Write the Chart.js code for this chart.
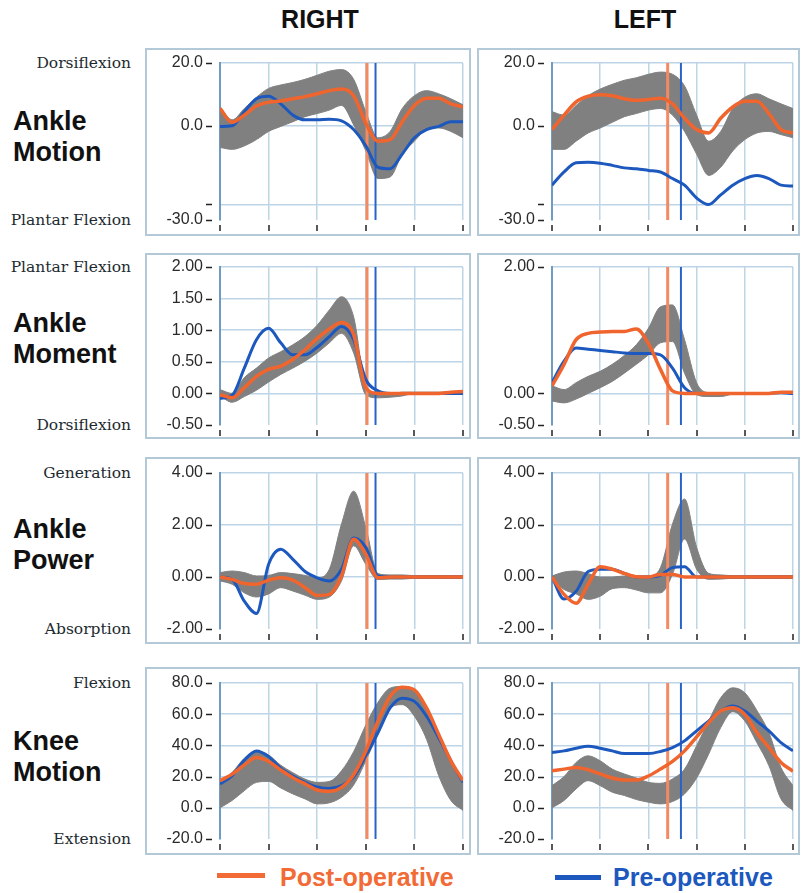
<!DOCTYPE html>
<html>
<head>
<meta charset="utf-8">
<script src="https://cdn.jsdelivr.net/npm/chart.js@4/dist/chart.umd.min.js"></script>
<style>
  body { margin: 0; background: #fff; width: 802px; height: 893px; position: relative; overflow: hidden;
         font-family: "Liberation Sans", Arial, sans-serif; }
  .abs { position: absolute; }
  .head { top: 5px; width: 140px; text-align: center; font-weight: bold; font-size: 25px; color: #111; }
  .rowlab { left: 13px; font-weight: bold; font-size: 27px; line-height: 31px; color: #111; }
  .side { left: 0; width: 131px; text-align: right; font: 15.5px "DejaVu Serif", serif; line-height: 18px; color: #1d2b30; white-space: nowrap; }
  .frame { border: 2px solid #b3c9d8; box-sizing: border-box; pointer-events: none; }
  .leg { top: 862px; font-weight: bold; font-size: 25px; line-height: 30px; }
  .bar { height: 5px; }
</style>
</head>
<body>
<div class="abs head" style="left:250px">RIGHT</div>
<div class="abs head" style="left:575px">LEFT</div>

<div class="abs bar" style="left:217px;top:873px;width:48px;background:#f26a35"></div>
<div class="abs leg" style="left:280px;color:#f26a35">Post-operative</div>
<div class="abs bar" style="left:555px;top:875px;width:46px;background:#1c58bd"></div>
<div class="abs leg" style="left:613px;color:#1c58bd">Pre-operative</div>

<script>
// gait cycle, percent
const pct = [0, 5, 10, 15, 20, 25, 30, 35, 40, 45, 50, 55, 60, 65, 70, 75, 80, 85, 90, 95, 100];

// ankle motion (deg)
const ankleMotionR_normHi = [6.0, 1.9, 5.5, 9.1, 11.9, 13.0, 13.8, 14.8, 16.1, 17.4, 17.9, 14.8, 4.5, -3.8, -1.8, 5.5, 9.6, 11.2, 10.2, 8.6, 6.7];
const ankleMotionR_normLo = [-6.9, -7.5, -6.4, -4.4, -1.8, -0.2, 1.3, 2.9, 3.9, 5.0, 6.5, 0.3, -8.0, -16.8, -16.3, -9.0, -4.9, -1.2, -0.7, -1.8, -3.8];
const ankleMotionR_post = [5.5, 1.1, 3.4, 6.3, 7.5, 7.9, 8.6, 9.3, 10.2, 11.2, 11.7, 9.6, 0.8, -4.9, -4.4, 1.3, 6.5, 8.8, 8.8, 7.0, 6.0];
const ankleMotionR_pre = [-0.2, 0.0, 4.5, 8.6, 9.4, 7.0, 3.4, 1.9, 1.9, 2.1, 1.6, -1.2, -6.4, -13.2, -13.7, -9.0, -3.8, -1.2, -0.2, 1.3, 1.3];
const ankleMotionL_normHi = [4.5, 3.4, 6.5, 9.6, 11.7, 13.2, 14.5, 15.3, 16.4, 17.1, 16.4, 12.7, 3.4, -4.9, -1.8, 5.5, 9.1, 10.2, 8.6, 7.0, 5.5];
const ankleMotionL_normLo = [-7.5, -7.5, -4.9, -2.3, -0.7, 1.1, 2.9, 3.9, 5.0, 5.5, 3.4, -1.8, -9.0, -15.8, -13.2, -8.0, -4.4, -2.3, -1.8, -2.8, -3.8];
const ankleMotionL_post = [-1.2, 3.4, 7.6, 9.4, 9.9, 9.6, 8.6, 8.1, 8.4, 8.8, 7.0, 2.4, -1.2, -2.3, 2.4, 6.0, 7.8, 7.8, 3.9, -1.2, -2.3];
const ankleMotionL_pre = [-18.9, -14.7, -11.8, -11.6, -11.9, -12.6, -13.4, -13.7, -14.2, -14.7, -16.8, -18.9, -23.0, -25.1, -22.0, -18.9, -16.8, -15.8, -16.8, -18.9, -19.2];

// ankle moment (Nm/kg)
const ankleMomentR_normHi = [0.06, 0.0, 0.25, 0.40, 0.56, 0.66, 0.77, 0.90, 1.08, 1.32, 1.53, 1.21, 0.12, 0.01, 0.0, 0.02, 0.02, 0.02, 0.02, 0.02, 0.02];
const ankleMomentR_normLo = [-0.04, -0.14, -0.05, 0.05, 0.18, 0.30, 0.40, 0.51, 0.64, 0.80, 0.95, 0.64, -0.02, -0.07, -0.06, -0.04, 0, 0, 0, 0, 0];
const ankleMomentR_post = [-0.02, -0.07, 0.09, 0.27, 0.38, 0.43, 0.54, 0.69, 0.87, 1.02, 1.12, 0.93, 0.09, 0, 0, 0, 0, 0, 0, 0.02, 0.03];
const ankleMomentR_pre = [-0.08, -0.03, 0.40, 0.85, 1.03, 0.80, 0.61, 0.61, 0.73, 0.90, 1.06, 0.85, 0.22, 0.04, 0, 0, 0, 0, 0, 0, 0];
const ankleMomentL_normHi = [0.12, 0.06, 0.17, 0.27, 0.35, 0.46, 0.60, 0.77, 1.03, 1.37, 1.40, 0.85, 0.17, 0.01, 0.0, 0.01, 0.01, 0, 0, 0, 0];
const ankleMomentL_normLo = [-0.12, -0.15, -0.09, 0, 0.09, 0.19, 0.32, 0.46, 0.61, 0.80, 0.82, 0.32, -0.02, -0.05, -0.05, -0.01, 0, 0, 0, 0, 0];
const ankleMomentL_post = [0.12, 0.46, 0.85, 0.95, 0.97, 0.98, 0.98, 1.02, 0.79, 0.38, 0.04, 0, 0, 0, 0, 0, 0, 0, 0, 0.02, 0.02];
const ankleMomentL_pre = [0.17, 0.51, 0.72, 0.70, 0.68, 0.66, 0.64, 0.63, 0.63, 0.61, 0.40, 0.09, 0, 0, 0, 0, 0, 0, 0, 0.01, 0];

// ankle power (W/kg)
const anklePowerR_normHi = [0.17, 0.23, 0.17, 0.04, 0.06, 0.17, 0.13, 0.06, -0.03, 0.30, 2.04, 3.30, 1.91, 0.13, 0.08, 0.08, 0.05, 0.05, 0.05, 0.05, 0.05];
const anklePowerR_normLo = [-0.15, -0.28, -0.61, -0.77, -0.65, -0.41, -0.54, -0.70, -0.86, -0.77, -0.15, 1.20, 0.49, -0.10, -0.08, -0.08, -0.05, -0.05, -0.05, -0.05, -0.05];
const anklePowerR_post = [0, -0.09, -0.25, -0.28, -0.12, -0.03, -0.12, -0.41, -0.71, -0.67, 0.04, 1.45, 0.88, -0.03, 0, 0, 0, 0, 0, 0, 0];
const anklePowerR_pre = [0, -0.09, -0.93, -1.40, 0.49, 1.07, 0.68, 0.21, -0.03, -0.15, 0.30, 1.50, 1.14, 0.04, 0, 0, 0, 0, 0, 0, 0];
const anklePowerL_normHi = [0.04, 0.19, 0.23, 0.13, 0, 0, 0.04, 0.04, 0.04, 0.36, 2.04, 3.0, 1.14, 0.14, 0.08, 0.05, 0.05, 0.05, 0.05, 0.05, 0.05];
const anklePowerL_normLo = [-0.09, -0.48, -0.65, -0.86, -0.74, -0.45, -0.41, -0.50, -0.61, -0.61, 0.10, 1.46, 0.30, -0.09, -0.08, -0.05, -0.05, -0.05, -0.05, -0.05, -0.05];
const anklePowerL_post = [0, -0.67, -1.01, -0.28, 0.39, 0.30, 0.14, 0.01, 0, 0.10, 0.10, 0, 0, 0, 0, 0, 0, 0, 0, 0, 0];
const anklePowerL_pre = [0, -0.85, -0.55, 0.21, 0.30, 0.30, 0.14, 0, 0, 0.06, 0.36, 0.39, 0, 0, 0, 0, 0, 0, 0, 0, 0];

// knee motion (deg)
const kneeMotionR_normHi = [16.3, 22.7, 31.8, 36.4, 33.9, 27.3, 22.5, 18.4, 16.3, 16.9, 23.7, 36.0, 53.0, 67.6, 76.7, 77.8, 75.2, 64.0, 43.9, 29.0, 16.3];
const kneeMotionR_normLo = [0, 4.7, 11.0, 16.3, 16.9, 12.7, 8.9, 5.7, 2.5, 3.2, 6.8, 14.6, 30.1, 47.5, 64.0, 66.1, 58.7, 43.9, 20.6, 4.7, -1.7];
const kneeMotionR_post = [17.4, 21.6, 27.5, 32.2, 29.7, 24.2, 19.3, 15.3, 11.4, 10.6, 13.1, 21.2, 36.4, 55.5, 71.4, 77.3, 75.6, 64.0, 47.0, 30.1, 17.4];
const kneeMotionR_pre = [15.3, 20.6, 30.5, 36.4, 32.8, 25.4, 20.3, 16.3, 13.3, 12.3, 14.2, 19.9, 33.3, 48.1, 64.0, 70.3, 68.2, 58.7, 44.9, 30.1, 16.3];
const kneeMotionL_normHi = [14.2, 20.0, 29.1, 33.3, 30.1, 24.8, 21.7, 19.1, 16.3, 15.7, 18.5, 24.8, 39.7, 55.6, 70.5, 76.9, 73.7, 62.4, 48.2, 25.9, 14.2];
const kneeMotionL_normLo = [0, 4.7, 12.1, 17.4, 14.2, 10.0, 7.9, 5.3, 3.6, 2.5, 4.0, 8.9, 19.1, 34.4, 51.4, 61.6, 55.6, 41.8, 27.0, 5.7, -1.7];
const kneeMotionL_post = [23.8, 24.8, 25.9, 24.4, 21.7, 19.1, 17.8, 17.8, 20.4, 24.8, 29.7, 36.5, 45.4, 54.6, 62.0, 64.1, 59.9, 48.2, 38.6, 29.1, 23.4];
const kneeMotionL_pre = [35.5, 36.5, 38.2, 39.5, 38.2, 36.5, 34.8, 34.8, 34.8, 36.1, 38.6, 42.9, 49.3, 55.6, 62.0, 65.2, 62.0, 55.6, 49.3, 41.8, 36.5];

// toe-off, percent of cycle [right, left]
const toeOffPost = [60.5, 48];
const toeOffPre = [64, 53.5];

// y tick values
const motionTicks = [20, 0, -25, -30];
const momentTicksR = [2, 1.5, 1, 0.5, 0, -0.5];
const momentTicksL = [2, 0, -0.5];
const powerTicks = [4, 2, 0, -2];
const kneeTicks = [80, 60, 40, 20, 0, -20];
const xTicks = [0, 20, 40, 60, 80, 100];

const rowTitles = [['Ankle', 'Motion'], ['Ankle', 'Moment'], ['Ankle', 'Power'], ['Knee', 'Motion']];
const sideTop = ['Dorsiflexion', 'Plantar Flexion', 'Generation', 'Flexion'];
const sideBottom = ['Plantar Flexion', 'Dorsiflexion', 'Absorption', 'Extension'];

const ORANGE = '#f0652e', BLUE = '#1c58bd', GREY = '#808080', GRID = '#bdd5e6';

const cols = [
  { left: 145, w: 326, plotL: 220, plotR: 463 },
  { left: 477, w: 323, plotL: 552, plotR: 793 }
];
const rows = [
  { top: 48, h: 188, plotT: 63, plotB: 220, labTop: 106 },
  { top: 253, h: 186, plotT: 267, plotB: 425, labTop: 308 },
  { top: 457, h: 187, plotT: 473, plotB: 629, labTop: 514 },
  { top: 667, h: 188, plotT: 683, plotB: 839, labTop: 726 }
];

const panels = [
  { r: 0, c: 0, hi: ankleMotionR_normHi, lo: ankleMotionR_normLo, post: ankleMotionR_post, pre: ankleMotionR_pre, min: -30, max: 20, ticks: motionTicks, hide: -25, dec: 1 },
  { r: 0, c: 1, hi: ankleMotionL_normHi, lo: ankleMotionL_normLo, post: ankleMotionL_post, pre: ankleMotionL_pre, min: -30, max: 20, ticks: motionTicks, hide: -25, dec: 1 },
  { r: 1, c: 0, hi: ankleMomentR_normHi, lo: ankleMomentR_normLo, post: ankleMomentR_post, pre: ankleMomentR_pre, min: -0.5, max: 2, ticks: momentTicksR, dec: 2 },
  { r: 1, c: 1, hi: ankleMomentL_normHi, lo: ankleMomentL_normLo, post: ankleMomentL_post, pre: ankleMomentL_pre, min: -0.5, max: 2, ticks: momentTicksL, dec: 2 },
  { r: 2, c: 0, hi: anklePowerR_normHi, lo: anklePowerR_normLo, post: anklePowerR_post, pre: anklePowerR_pre, min: -2, max: 4, ticks: powerTicks, dec: 2 },
  { r: 2, c: 1, hi: anklePowerL_normHi, lo: anklePowerL_normLo, post: anklePowerL_post, pre: anklePowerL_pre, min: -2, max: 4, ticks: powerTicks, dec: 2 },
  { r: 3, c: 0, hi: kneeMotionR_normHi, lo: kneeMotionR_normLo, post: kneeMotionR_post, pre: kneeMotionR_pre, min: -20, max: 80, ticks: kneeTicks, dec: 1 },
  { r: 3, c: 1, hi: kneeMotionL_normHi, lo: kneeMotionL_normLo, post: kneeMotionL_post, pre: kneeMotionL_pre, min: -20, max: 80, ticks: kneeTicks, dec: 1 }
];

function addDiv(cls, style, text) {
  const d = document.createElement('div');
  d.className = 'abs ' + cls;
  d.style.cssText = style;
  if (text) d.innerHTML = text;
  document.body.appendChild(d);
  return d;
}

rows.forEach((row, i) => {
  addDiv('rowlab', `top:${row.labTop}px`, rowTitles[i].join('<br>'));
  addDiv('side', `top:${row.plotT - 9}px`, sideTop[i]);
  addDiv('side', `top:${row.plotB - 9}px`, sideBottom[i]);
});

const pts = vals => vals.map((v, i) => ({ x: pct[i], y: v }));

// small black dashes beside the axes, like the original plots
const tickDashes = {
  id: 'tickDashes',
  afterDraw(chart) {
    const { ctx, chartArea: a, scales: { x, y } } = chart;
    ctx.save();
    ctx.strokeStyle = '#222';
    ctx.lineWidth = 1.5;
    ctx.beginPath();
    y.ticks.forEach(t => {
      const py = Math.round(y.getPixelForValue(t.value)) + 0.5;
      ctx.moveTo(a.left - 14, py);
      ctx.lineTo(a.left - 8, py);
    });
    x.ticks.forEach(t => {
      const px = Math.round(x.getPixelForValue(t.value));
      ctx.moveTo(px, a.bottom + 5);
      ctx.lineTo(px, a.bottom + 11);
    });
    ctx.stroke();
    ctx.restore();
  }
};

panels.forEach(p => {
  const row = rows[p.r], col = cols[p.c];
  const cv = document.createElement('canvas');
  cv.width = col.w;
  cv.height = row.h;
  cv.style.cssText = `position:absolute;left:${col.left}px;top:${row.top}px;width:${col.w}px;height:${row.h}px`;
  document.body.appendChild(cv);
  addDiv('frame', `left:${col.left}px;top:${row.top}px;width:${col.w}px;height:${row.h}px`);

  const tPost = toeOffPost[p.c], tPre = toeOffPre[p.c];

  new Chart(cv.getContext('2d'), {
    type: 'line',
    data: {
      datasets: [
        { data: pts(p.post), borderColor: ORANGE, borderWidth: 3.5, order: 0 },
        { data: pts(p.pre), borderColor: BLUE, borderWidth: 3, order: 1 },
        { data: [{ x: tPre, y: p.min }, { x: tPre, y: p.max }], borderColor: '#2a63c8', borderWidth: 2,
          tension: 0, cubicInterpolationMode: 'default', order: 2 },
        { data: [{ x: tPost, y: p.min }, { x: tPost, y: p.max }], borderColor: '#f38a62', borderWidth: 3,
          tension: 0, cubicInterpolationMode: 'default', order: 3 },
        { data: pts(p.hi), borderColor: GREY, borderWidth: 1, backgroundColor: GREY, fill: '+1', order: 4 },
        { data: pts(p.lo), borderColor: GREY, borderWidth: 1, order: 5 }
      ]
    },
    options: {
      responsive: false,
      animation: false,
      datasets: { line: { pointRadius: 0, cubicInterpolationMode: 'monotone' } },
      layout: { padding: { top: row.plotT - row.top, right: col.left + col.w - col.plotR, left: 0, bottom: 0 } },
      plugins: { legend: { display: false }, tooltip: { enabled: false } },
      scales: {
        x: {
          type: 'linear', min: 0, max: 100,
          afterBuildTicks: s => { s.ticks = xTicks.map(v => ({ value: v })); },
          afterFit: s => { s.height = row.top + row.h - row.plotB; },
          ticks: { display: false },
          grid: { color: GRID, lineWidth: 1.5, drawTicks: false },
          border: { display: false }
        },
        y: {
          min: p.min, max: p.max,
          afterBuildTicks: s => { s.ticks = p.ticks.map(v => ({ value: v })); },
          afterFit: s => { s.width = col.plotL - col.left; },
          ticks: {
            padding: 0,
            color: '#2a2a2a',
            font: { family: '"Liberation Sans", Arial, sans-serif', size: 16 },
            callback: v => (v === p.hide ? '' : v.toFixed(p.dec))
          },
          grid: {
            color: c => (c.tick && c.tick.value === p.min ? 'rgba(0,0,0,0)' : GRID),
            lineWidth: 1.5, drawTicks: true, tickLength: 17, tickColor: 'rgba(0,0,0,0)'
          },
          border: { color: '#6f9cc0', width: 2 }
        }
      }
    },
    plugins: [tickDashes]
  });
});
</script>
</body>
</html>
